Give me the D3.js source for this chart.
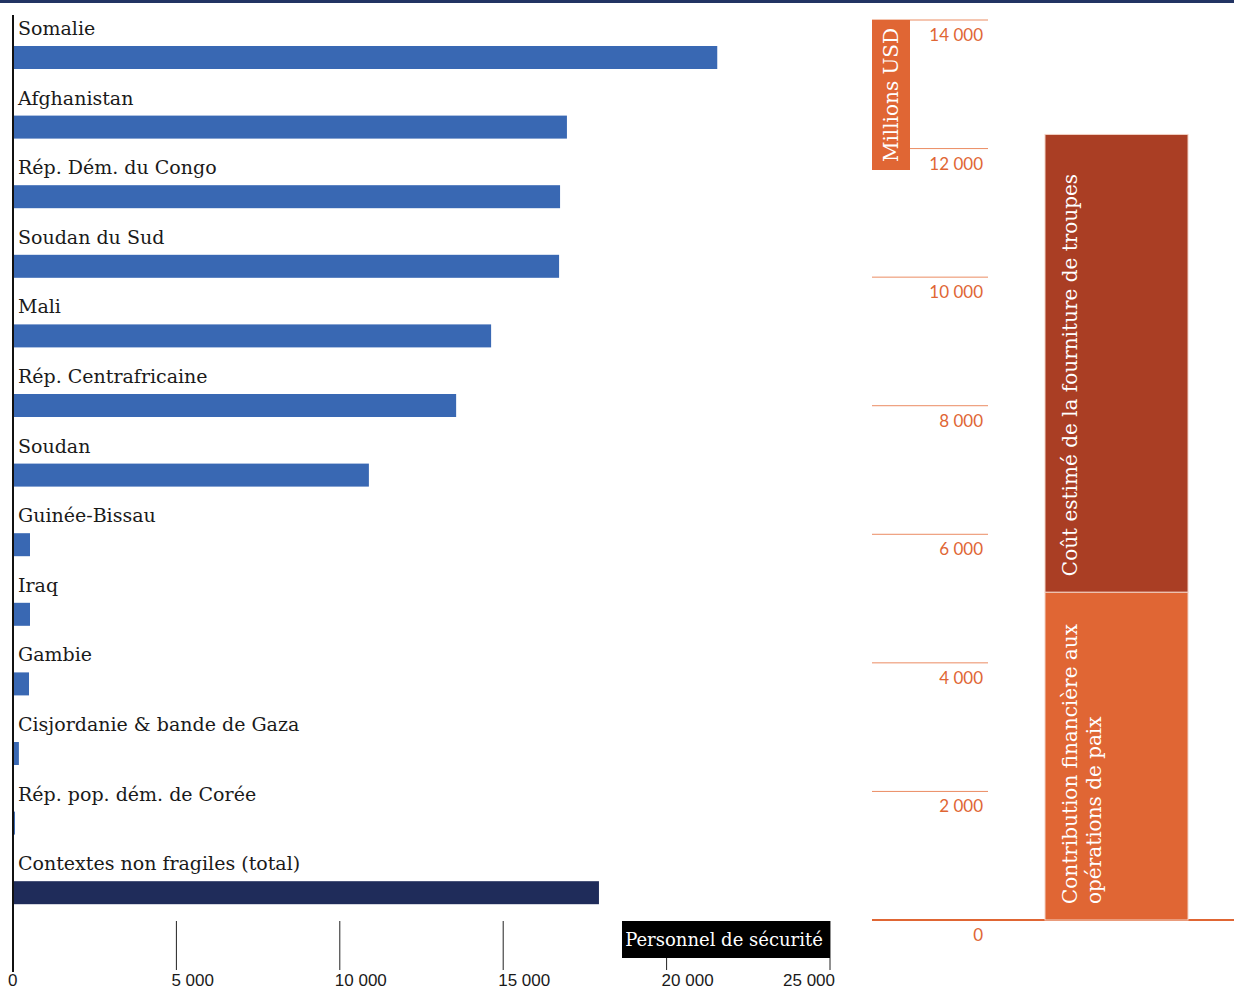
<!DOCTYPE html>
<html>
<head>
	<meta charset="utf-8">
	<title>Personnel de sécurité et coût des opérations de paix</title>
	<script src="https://cdn.jsdelivr.net/npm/d3@7/dist/d3.min.js"></script>
	<style>
		body { margin: 0; background: #fff; }
		svg { display: block; }
		.lbl { font-family: "DejaVu Serif", serif; font-size: 19px; fill: #1a1a1a; }
		.tick-lbl { font-family: "Liberation Sans Narrow", "Liberation Sans", sans-serif; font-size: 17px; fill: #1a1a1a; }
		.ylbl { font-family: "Lato", "Open Sans", sans-serif; font-size: 17px; fill: #e06634; }
	</style>
</head>
<body>
	<svg id="chart" width="1234" height="992"></svg>

	<script type="text/javascript">
		// personnel de sécurité par contexte
		var countries = ['Somalie', 'Afghanistan', 'Rép. Dém. du Congo', 'Soudan du Sud', 'Mali',
			'Rép. Centrafricaine', 'Soudan', 'Guinée-Bissau', 'Iraq', 'Gambie',
			'Cisjordanie & bande de Gaza', 'Rép. pop. dém. de Corée', 'Contextes non fragiles (total)'];
		var personnel = [21550, 16950, 16740, 16710, 14630, 13560, 10890, 520, 520, 490, 180, 60, 17930];
		var xTicks = [0, 5000, 10000, 15000, 20000, 25000];

		// coût en millions USD
		var costParts = ['Contribution financière aux|opérations de paix', 'Coût estimé de la fourniture de troupes'];
		var costValues = [5100, 7120];
		var yTicks = [0, 2000, 4000, 6000, 8000, 10000, 12000, 14000];

		var svg = d3.select('#chart');
		var fmt = v => d3.format(',')(v).replace(/,/g, ' ');

		// top band
		svg.append('rect')
			.attr('x', 0).attr('y', 0)
			.attr('width', 1234).attr('height', 3)
			.attr('fill', '#223463');

		// ---- left chart
		var x = d3.scaleLinear().domain([0, 25000]).range([13, 830]);
		var y = d3.scaleBand().domain(countries).range([0, 69.6 * countries.length]);

		var rows = svg.append('g')
			.selectAll('g')
			.data(countries)
			.enter()
			.append('g')
			.attr('transform', d => 'translate(0,' + y(d) + ')');

		rows.append('text')
			.attr('class', 'lbl')
			.attr('x', 18)
			.attr('y', 35)
			.text(d => d);

		rows.append('rect')
			.attr('x', x(0))
			.attr('y', 46)
			.attr('height', 23)
			.attr('width', (d, i) => x(personnel[i]) - x(0))
			.attr('fill', (d, i) => i === countries.length - 1 ? '#1f2c5a' : '#3968b3');

		// ticks
		var ticks = svg.append('g');
		ticks.selectAll('line')
			.data(xTicks.slice(1))
			.enter()
			.append('line')
			.attr('x1', d => x(d)).attr('x2', d => x(d))
			.attr('y1', d => d === 20000 ? 958 : 921)
			.attr('y2', 970)
			.attr('stroke', '#222')
			.attr('stroke-width', 1);

		ticks.selectAll('text')
			.data(xTicks)
			.enter()
			.append('text')
			.attr('class', 'tick-lbl')
			.attr('x', (d, i) => i === xTicks.length - 1 ? x(d) + 5 : x(d) - 5)
			.attr('y', 986)
			.attr('text-anchor', (d, i) => i === xTicks.length - 1 ? 'end' : 'start')
			.text(fmt);

		// left axis line
		svg.append('line')
			.attr('x1', 13).attr('x2', 13)
			.attr('y1', 15).attr('y2', 972)
			.attr('stroke', '#111')
			.attr('stroke-width', 2);

		// title box
		svg.append('rect')
			.attr('x', 622).attr('y', 921)
			.attr('width', 208).attr('height', 37)
			.attr('fill', '#000');
		svg.append('text')
			.attr('class', 'lbl')
			.attr('x', 724).attr('y', 946)
			.attr('text-anchor', 'middle')
			.style('fill', '#fff')
			.style('font-size', '18px')
			.text('Personnel de sécurité');

		// ---- right chart
		var yR = d3.scaleLinear().domain([0, 14000]).range([920, 20]);

		var grid = svg.append('g');
		grid.selectAll('line')
			.data(yTicks)
			.enter()
			.append('line')
			.attr('x1', 872)
			.attr('x2', d => d === 0 ? 1234 : 988)
			.attr('y1', d => yR(d)).attr('y2', d => yR(d))
			.attr('stroke', d => d === 0 ? '#e06634' : '#eb8c63')
			.attr('stroke-width', d => d === 0 ? 2 : 1);

		grid.selectAll('text')
			.data(yTicks)
			.enter()
			.append('text')
			.attr('class', 'ylbl')
			.attr('x', 983)
			.attr('y', d => yR(d) + 21)
			.attr('text-anchor', 'end')
			.text(fmt);

		// Millions USD box
		svg.append('rect')
			.attr('x', 872).attr('y', 20)
			.attr('width', 38).attr('height', 150)
			.attr('fill', '#e06634');
		svg.append('text')
			.attr('class', 'lbl')
			.attr('transform', 'translate(898,95) rotate(-90)')
			.attr('text-anchor', 'middle')
			.style('fill', '#fff')
			.style('font-size', '20px')
			.text('Millions USD');

		// stacked bar
		var stackTops = d3.cumsum(costValues);
		var segColors = ['#e06634', '#aa3e24'];
		var seg = svg.append('g')
			.selectAll('g')
			.data(costParts)
			.enter()
			.append('g');

		seg.append('rect')
			.attr('x', 1045)
			.attr('width', 143)
			.attr('y', (d, i) => yR(stackTops[i]))
			.attr('height', (d, i) => yR(stackTops[i] - costValues[i]) - yR(stackTops[i]))
			.attr('fill', (d, i) => segColors[i])
			.attr('stroke', '#f3d2c4')
			.attr('stroke-width', 1);

		seg.each(function (d, i) {
			var lines = d.split('|');
			var base = yR(stackTops[i] - costValues[i]) - 16;
			var t = d3.select(this).append('text')
				.attr('class', 'lbl')
				.attr('transform', 'translate(1077,' + base + ') rotate(-90)')
				.style('fill', '#fff')
				.style('font-size', '20px');
			lines.forEach((l, j) => {
				t.append('tspan')
					.attr('x', 0)
					.attr('dy', j === 0 ? 0 : 24)
					.text(l);
			});
		});
	</script>
</body>
</html>
